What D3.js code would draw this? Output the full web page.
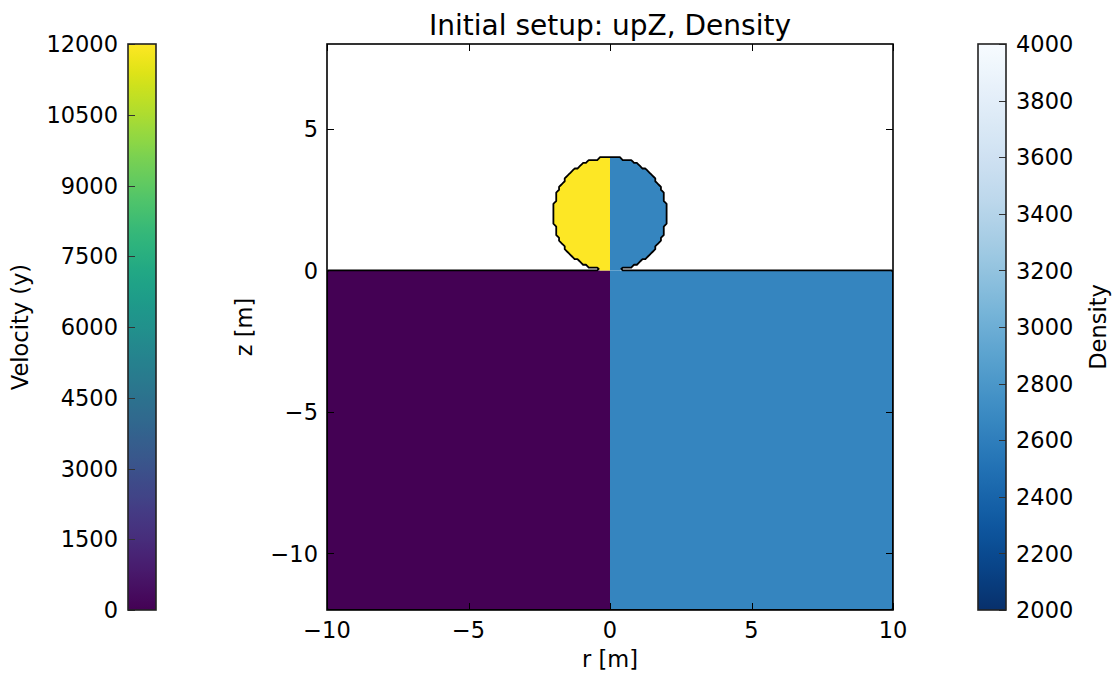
<!DOCTYPE html>
<html>
<head>
<meta charset="utf-8">
<script src="https://cdn.jsdelivr.net/npm/d3@7"></script>
<style>
  body { margin: 0; background: #fff; }
  svg { display: block; }
  text { font-family: "DejaVu Sans", sans-serif; fill: #000; }
</style>
</head>
<body>
<svg id="fig" width="1116" height="673"></svg>
<script>
// ---- model geometry (metres) ----
const rExtent = [-10, 10];
const zExtent = [-12, 8];
const groundLevel = 0;
const impactorCenter = [0, 2];
const impactorRadius = 2;
const cellSize = 0.1;

// ---- material properties: [target, impactor] ----
const materialNames = ["target", "impactor"];
const velocityY = [0, 12000];
const density = [2650, 2650];

// ---- axes ticks ----
const rTicks = [-10, -5, 0, 5, 10];
const zTicks = [-10, -5, 0, 5];
const velocityDomain = [0, 12000];
const velocityTicks = [0, 1500, 3000, 4500, 6000, 7500, 9000, 10500, 12000];
const densityDomain = [2000, 4000];
const densityTicks = [2000, 2200, 2400, 2600, 2800, 3000, 3200, 3400, 3600, 3800, 4000];

const svg = d3.select("#fig");
const plot = { left: 327, right: 893, top: 44, bottom: 610 };
const cbLeft = { left: 128, right: 156 };
const cbRight = { left: 978, right: 1006 };
const tickFont = 22.5, labelFont = 22.5, titleFont = 28, tickLen = 7;

const x = d3.scaleLinear().domain(rExtent).range([plot.left, plot.right]);
const y = d3.scaleLinear().domain(zExtent).range([plot.bottom, plot.top]);

const velColor = d3.scaleSequential(d3.interpolateViridis).domain(velocityDomain);
const denColor = d3.scaleSequential(t => d3.interpolateBlues(1 - t)).domain(densityDomain);

// ---- material grid (cell-centred sampling) ----
const nr = Math.round((rExtent[1] - rExtent[0]) / cellSize);
const nz = Math.round((zExtent[1] - zExtent[0]) / cellSize);
const targetMask = new Array(nr * nz);
const impactorMask = new Array(nr * nz);
const solidMask = new Array(nr * nz);
for (let j = 0; j < nz; j++) {
  const zc = zExtent[1] - (j + 0.5) * cellSize;
  for (let i = 0; i < nr; i++) {
    const rc = rExtent[0] + (i + 0.5) * cellSize;
    const inTarget = zc < groundLevel ? 1 : 0;
    const dr = rc - impactorCenter[0], dz = zc - impactorCenter[1];
    const inImpactor = (dr * dr + dz * dz <= impactorRadius * impactorRadius) ? 1 : 0;
    targetMask[i + j * nr] = inTarget;
    impactorMask[i + j * nr] = inImpactor;
    solidMask[i + j * nr] = Math.max(inTarget, inImpactor);
  }
}

const contourGen = d3.contours().size([nr, nz]).thresholds([0.5]);
// grid coordinates -> screen via the axis scales
const gridToScreen = d3.geoTransform({
  point: function (gx, gy) {
    this.stream.point(x(rExtent[0] + gx * cellSize), y(zExtent[1] - gy * cellSize));
  }
});
const gridPath = d3.geoPath(gridToScreen);

const targetShape = contourGen(targetMask)[0];
const impactorShape = contourGen(impactorMask)[0];
const solidShape = contourGen(solidMask)[0];

// clip paths: left half shows vertical velocity, right half shows density
const defs = svg.append("defs");
defs.append("clipPath").attr("id", "clip-left").append("rect")
  .attr("x", x(rExtent[0])).attr("y", y(zExtent[1]))
  .attr("width", x(0) - x(rExtent[0])).attr("height", y(zExtent[0]) - y(zExtent[1]));
defs.append("clipPath").attr("id", "clip-right").append("rect")
  .attr("x", x(0)).attr("y", y(zExtent[1]))
  .attr("width", x(rExtent[1]) - x(0)).attr("height", y(zExtent[0]) - y(zExtent[1]));
defs.append("clipPath").attr("id", "clip-plot").append("rect")
  .attr("x", plot.left).attr("y", plot.top)
  .attr("width", plot.right - plot.left).attr("height", plot.bottom - plot.top);

// plot background
svg.append("rect").attr("x", plot.left).attr("y", plot.top)
  .attr("width", plot.right - plot.left).attr("height", plot.bottom - plot.top)
  .attr("fill", "#fff");

const leftG = svg.append("g").attr("clip-path", "url(#clip-left)");
leftG.append("path").attr("d", gridPath(targetShape)).attr("fill", velColor(velocityY[0]));
leftG.append("path").attr("d", gridPath(impactorShape)).attr("fill", velColor(velocityY[1]));

const rightG = svg.append("g").attr("clip-path", "url(#clip-right)");
rightG.append("path").attr("d", gridPath(targetShape)).attr("fill", denColor(density[0]));
rightG.append("path").attr("d", gridPath(impactorShape)).attr("fill", denColor(density[1]));

// material interface outline
svg.append("g").attr("clip-path", "url(#clip-plot)")
  .append("path").attr("d", gridPath(solidShape))
  .attr("fill", "none").attr("stroke", "#000").attr("stroke-width", 1.8)
  .attr("stroke-linejoin", "round");

// ---- main axes frame and ticks ----
const axG = svg.append("g");
rTicks.forEach(t => {
  const px = Math.round(x(t)) + 0.5;
  axG.append("line").attr("x1", px).attr("x2", px).attr("y1", plot.bottom).attr("y2", plot.bottom - tickLen)
    .attr("stroke", "#000").attr("stroke-width", 1);
  axG.append("line").attr("x1", px).attr("x2", px).attr("y1", plot.top).attr("y2", plot.top + tickLen)
    .attr("stroke", "#000").attr("stroke-width", 1);
  axG.append("text").attr("x", x(t)).attr("y", plot.bottom + 28)
    .attr("text-anchor", "middle").attr("font-size", tickFont)
    .text(String(t).replace("-", "\u2212"));
});
zTicks.forEach(t => {
  const py = Math.round(y(t)) + 0.5;
  axG.append("line").attr("x1", plot.left).attr("x2", plot.left + tickLen).attr("y1", py).attr("y2", py)
    .attr("stroke", "#000").attr("stroke-width", 1);
  axG.append("line").attr("x1", plot.right).attr("x2", plot.right - tickLen).attr("y1", py).attr("y2", py)
    .attr("stroke", "#000").attr("stroke-width", 1);
  axG.append("text").attr("x", plot.left - 9).attr("y", y(t)).attr("dy", "0.36em")
    .attr("text-anchor", "end").attr("font-size", tickFont)
    .text(String(t).replace("-", "\u2212"));
});
axG.append("rect").attr("x", plot.left).attr("y", plot.top)
  .attr("width", plot.right - plot.left).attr("height", plot.bottom - plot.top)
  .attr("fill", "none").attr("stroke", "#000").attr("stroke-width", 1.6);

axG.append("text").attr("x", (plot.left + plot.right) / 2).attr("y", 667)
  .attr("text-anchor", "middle").attr("font-size", labelFont).text("r [m]");
axG.append("text").attr("transform", `translate(252,${(plot.top + plot.bottom) / 2}) rotate(-90)`)
  .attr("text-anchor", "middle").attr("font-size", labelFont).text("z [m]");
svg.append("text").attr("x", (plot.left + plot.right) / 2).attr("y", 35)
  .attr("text-anchor", "middle").attr("font-size", titleFont).text("Initial setup: upZ, Density");

// ---- colorbars ----
function colorbar(id, box, interp, domain, ticks, side, label, labelX) {
  const grad = defs.append("linearGradient").attr("id", id)
    .attr("x1", 0).attr("y1", 1).attr("x2", 0).attr("y2", 0);
  d3.range(0, 1.0001, 1 / 40).forEach(t => {
    grad.append("stop").attr("offset", t).attr("stop-color", interp(t));
  });
  const sc = d3.scaleLinear().domain(domain).range([plot.bottom, plot.top]);
  const g = svg.append("g");
  g.append("rect").attr("x", box.left).attr("y", plot.top)
    .attr("width", box.right - box.left).attr("height", plot.bottom - plot.top)
    .attr("fill", `url(#${id})`);
  ticks.forEach(t => {
    const py = Math.round(sc(t)) + 0.5;
    const edge = side === "left" ? box.left : box.right;
    const inner = side === "left" ? box.left + tickLen : box.right - tickLen;
    g.append("line").attr("x1", edge).attr("x2", inner).attr("y1", py).attr("y2", py)
      .attr("stroke", "#333").attr("stroke-width", 1);
    g.append("text")
      .attr("x", side === "left" ? box.left - 10 : box.right + 10)
      .attr("y", sc(t)).attr("dy", "0.36em")
      .attr("text-anchor", side === "left" ? "end" : "start")
      .attr("font-size", tickFont).text(t);
  });
  g.append("rect").attr("x", box.left).attr("y", plot.top)
    .attr("width", box.right - box.left).attr("height", plot.bottom - plot.top)
    .attr("fill", "none").attr("stroke", "#222").attr("stroke-width", 1.6);
  g.append("text").attr("transform", `translate(${labelX},${(plot.top + plot.bottom) / 2}) rotate(-90)`)
    .attr("text-anchor", "middle").attr("font-size", labelFont).text(label);
}
colorbar("grad-vel", cbLeft, d3.interpolateViridis, velocityDomain, velocityTicks, "left", "Velocity (y)", 28);
colorbar("grad-den", cbRight, t => d3.interpolateBlues(1 - t), densityDomain, densityTicks, "right", "Density", 1106);
</script>
</body>
</html>
